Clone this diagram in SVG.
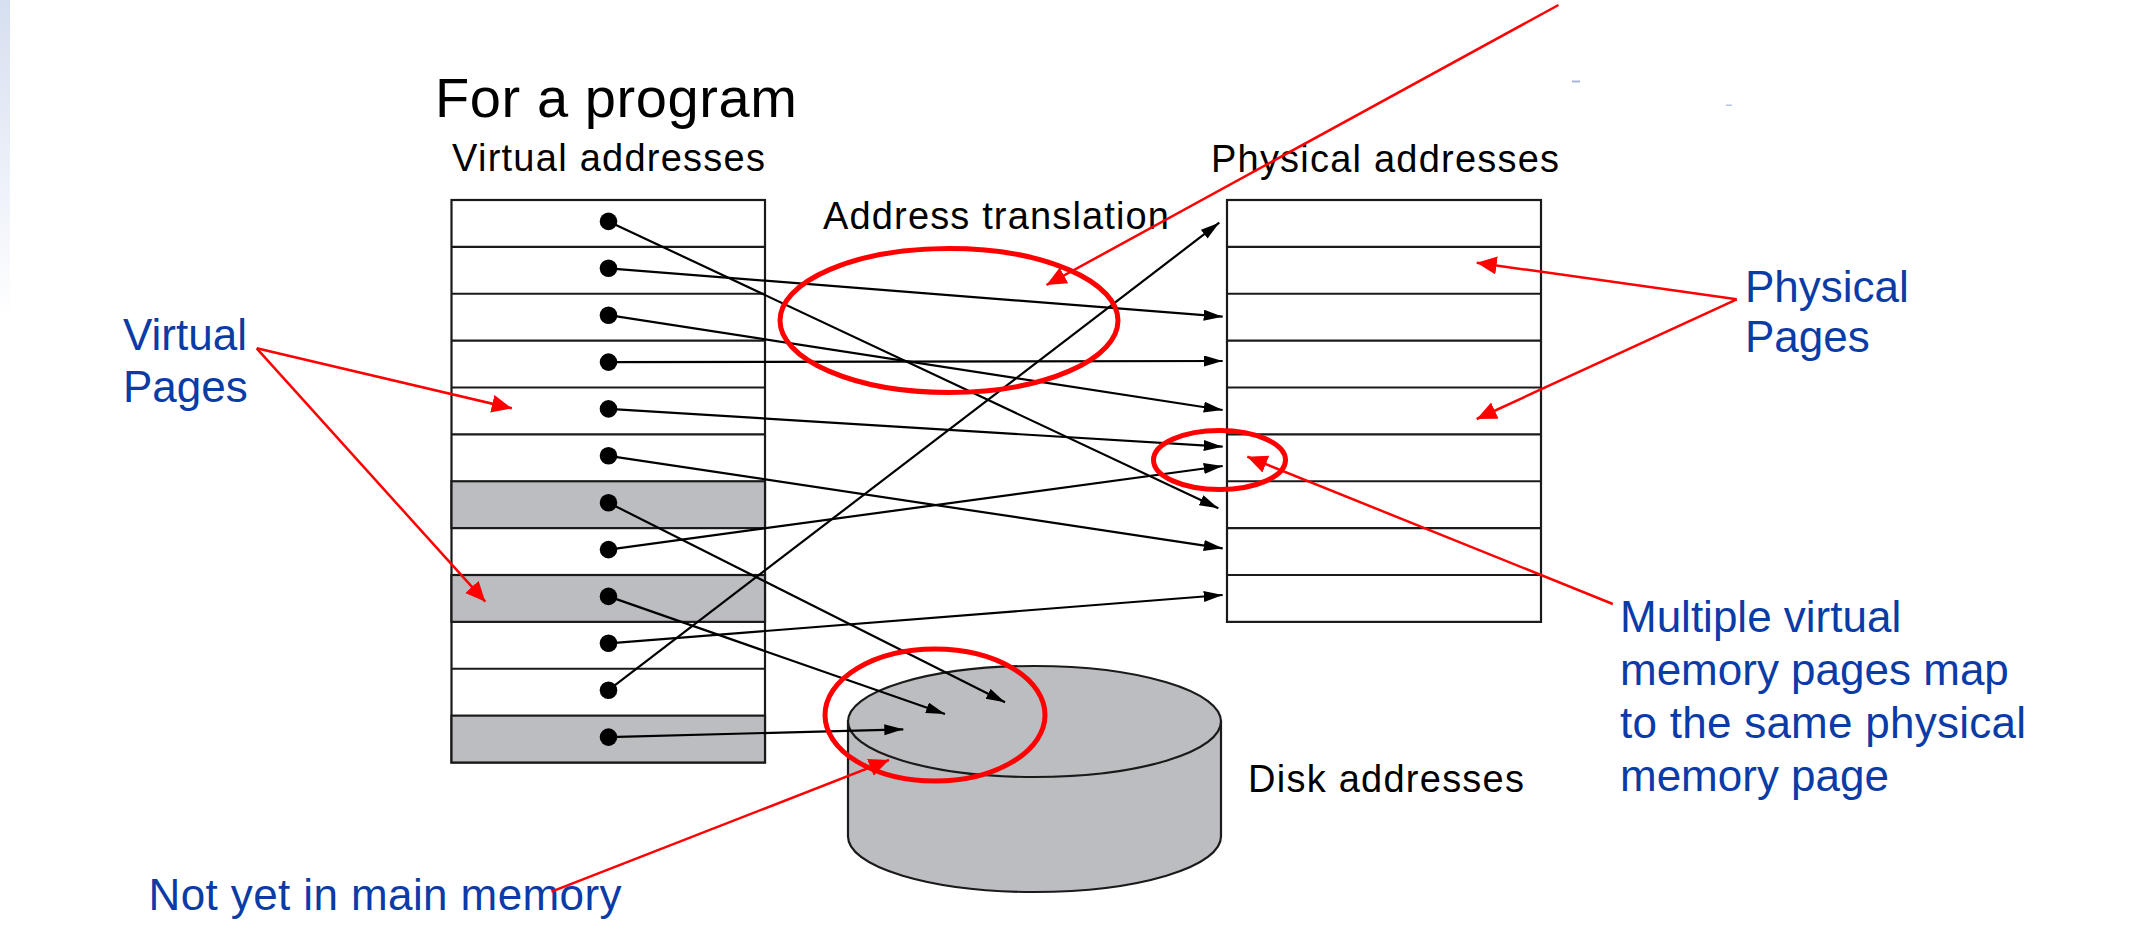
<svg xmlns="http://www.w3.org/2000/svg" width="2146" height="940" viewBox="0 0 2146 940">
<defs>
<linearGradient id="strip" x1="0" y1="0" x2="0" y2="1">
<stop offset="0" stop-color="#d6dff0"/>
<stop offset="1" stop-color="#ffffff"/>
</linearGradient>
<marker id="ah" markerUnits="userSpaceOnUse" markerWidth="20" markerHeight="12" refX="19" refY="5.5" orient="auto">
<path d="M0,0 L19,5.5 L0,11 Z" fill="#000"/>
</marker>
<marker id="rh" markerUnits="userSpaceOnUse" markerWidth="22" markerHeight="20" refX="20" refY="9" orient="auto">
<path d="M0,0 L20,9 L0,18 Z" fill="#ff0000"/>
</marker>
</defs>
<style>
.t{font-family:"Liberation Sans",Arial,Helvetica,sans-serif;fill:#000}
.b{font-family:"Liberation Sans",Arial,Helvetica,sans-serif;fill:#0b3ba6;font-size:44px}
.box{fill:#fff;stroke:#1a1a1a;stroke-width:2.2}
.gray{fill:#bcbdc1;stroke:#1a1a1a;stroke-width:2.2}
.rl{stroke:#1a1a1a;stroke-width:2.2}
.dot{fill:#000}
.con{stroke:#000;stroke-width:2.2;fill:none;marker-end:url(#ah)}
.rline{stroke:#ff0000;stroke-width:2.5;fill:none}
.rarrow{stroke:#ff0000;stroke-width:2.5;fill:none;marker-end:url(#rh)}
.ring{stroke:#ff0000;stroke-width:5;fill:none}
</style>
<rect x="0" y="0" width="2146" height="940" fill="#fff"/>
<rect x="0" y="0" width="10" height="320" fill="url(#strip)"/>
<rect x="1572" y="80.5" width="8" height="2" fill="#a9b7d6"/>
<rect x="1726" y="104.5" width="6" height="1.5" fill="#b8c4de"/>

<g id="titles">
<text class="t" x="435" y="117" font-size="56" textLength="362">For a program</text>
<text class="t" x="452" y="171" font-size="38" textLength="313">Virtual addresses</text>
<text class="t" x="823" y="229" font-size="38" textLength="346">Address translation</text>
<text class="t" x="1211" y="172" font-size="38" textLength="348">Physical addresses</text>
<text class="t" x="1248" y="792" font-size="38" textLength="276">Disk addresses</text>
</g>

<g id="virtual-table">
<rect class="box" x="451.5" y="200" width="313.5" height="562.5"/>
<rect class="gray" x="451.5" y="481.25" width="313.5" height="46.875"/>
<rect class="gray" x="451.5" y="575" width="313.5" height="46.875"/>
<rect class="gray" x="451.5" y="715.625" width="313.5" height="46.875"/>
<line class="rl" x1="451.5" y1="246.875" x2="765" y2="246.875"/>
<line class="rl" x1="451.5" y1="293.75" x2="765" y2="293.75"/>
<line class="rl" x1="451.5" y1="340.625" x2="765" y2="340.625"/>
<line class="rl" x1="451.5" y1="387.5" x2="765" y2="387.5"/>
<line class="rl" x1="451.5" y1="434.375" x2="765" y2="434.375"/>
<line class="rl" x1="451.5" y1="668.75" x2="765" y2="668.75"/>
</g>

<g id="physical-table">
<rect class="box" x="1227" y="200" width="314" height="421.875"/>
<line class="rl" x1="1227" y1="246.875" x2="1541" y2="246.875"/>
<line class="rl" x1="1227" y1="293.75" x2="1541" y2="293.75"/>
<line class="rl" x1="1227" y1="340.625" x2="1541" y2="340.625"/>
<line class="rl" x1="1227" y1="387.5" x2="1541" y2="387.5"/>
<line class="rl" x1="1227" y1="434.375" x2="1541" y2="434.375"/>
<line class="rl" x1="1227" y1="481.25" x2="1541" y2="481.25"/>
<line class="rl" x1="1227" y1="528.125" x2="1541" y2="528.125"/>
<line class="rl" x1="1227" y1="575" x2="1541" y2="575"/>
</g>

<g id="disk">
<path d="M848,721.5 L848,836.5 A186.5 55.5 0 0 0 1221,836.5 L1221,721.5 Z" fill="#bcbdc1" stroke="#1a1a1a" stroke-width="2.2"/>
<ellipse cx="1034.5" cy="721.5" rx="186.5" ry="55.5" fill="#bcbdc1" stroke="#1a1a1a" stroke-width="2.2"/>
</g>

<g id="connectors">
<line class="con" x1="608.5" y1="221.4" x2="1218.3" y2="508.3"/>
<line class="con" x1="608.5" y1="268.3" x2="1222.7" y2="316.7"/>
<line class="con" x1="608.5" y1="315.2" x2="1222.7" y2="410"/>
<line class="con" x1="608.5" y1="362.1" x2="1222.7" y2="361"/>
<line class="con" x1="608.5" y1="408.9" x2="1222.7" y2="446.7"/>
<line class="con" x1="608.5" y1="455.8" x2="1222.7" y2="548.3"/>
<line class="con" x1="608.5" y1="502.7" x2="1005" y2="702.3"/>
<line class="con" x1="608.5" y1="549.6" x2="1222.7" y2="466"/>
<line class="con" x1="608.5" y1="596.4" x2="945" y2="714"/>
<line class="con" x1="608.5" y1="643.3" x2="1222.7" y2="595"/>
<line class="con" x1="608.5" y1="690.2" x2="1219.3" y2="222.7"/>
<line class="con" x1="608.5" y1="737.1" x2="903.3" y2="729.3"/>
</g>

<g id="dots">
<circle class="dot" cx="608.5" cy="221.4" r="8.8"/>
<circle class="dot" cx="608.5" cy="268.3" r="8.8"/>
<circle class="dot" cx="608.5" cy="315.2" r="8.8"/>
<circle class="dot" cx="608.5" cy="362.1" r="8.8"/>
<circle class="dot" cx="608.5" cy="408.9" r="8.8"/>
<circle class="dot" cx="608.5" cy="455.8" r="8.8"/>
<circle class="dot" cx="608.5" cy="502.7" r="8.8"/>
<circle class="dot" cx="608.5" cy="549.6" r="8.8"/>
<circle class="dot" cx="608.5" cy="596.4" r="8.8"/>
<circle class="dot" cx="608.5" cy="643.3" r="8.8"/>
<circle class="dot" cx="608.5" cy="690.2" r="8.8"/>
<circle class="dot" cx="608.5" cy="737.1" r="8.8"/>
</g>

<g id="highlight-rings">
<ellipse class="ring" cx="949" cy="320.5" rx="169" ry="72"/>
<ellipse class="ring" cx="1219.5" cy="460" rx="66" ry="29.5"/>
<ellipse class="ring" cx="935" cy="715" rx="110" ry="66"/>
</g>

<g id="annotation-address-translation">
<line class="rarrow" x1="1558.5" y1="5" x2="1046.5" y2="285"/>
</g>

<g id="annotation-virtual-pages">
<text class="b" x="123" y="350">Virtual</text>
<text class="b" x="123" y="402">Pages</text>
<line class="rarrow" x1="256.7" y1="348.3" x2="511.8" y2="408.3"/>
<line class="rarrow" x1="256.7" y1="348.3" x2="485.3" y2="601.7"/>
</g>

<g id="annotation-physical-pages">
<text class="b" x="1745" y="302">Physical</text>
<text class="b" x="1745" y="352">Pages</text>
<line class="rarrow" x1="1736.7" y1="299.3" x2="1476.7" y2="262.7"/>
<line class="rarrow" x1="1736.7" y1="299.3" x2="1476.7" y2="419"/>
</g>

<g id="annotation-multiple">
<text class="b" x="1620" y="632">Multiple virtual</text>
<text class="b" x="1620" y="685">memory pages map</text>
<text class="b" x="1620" y="738" textLength="406">to the same physical</text>
<text class="b" x="1620" y="791">memory page</text>
<line class="rarrow" x1="1612.8" y1="604" x2="1247.3" y2="456.7"/>
</g>

<g id="annotation-not-in-memory">
<text class="b" x="148.5" y="910" textLength="473">Not yet in main memory</text>
<line class="rarrow" x1="551.5" y1="891.7" x2="889" y2="760"/>
</g>
</svg>
